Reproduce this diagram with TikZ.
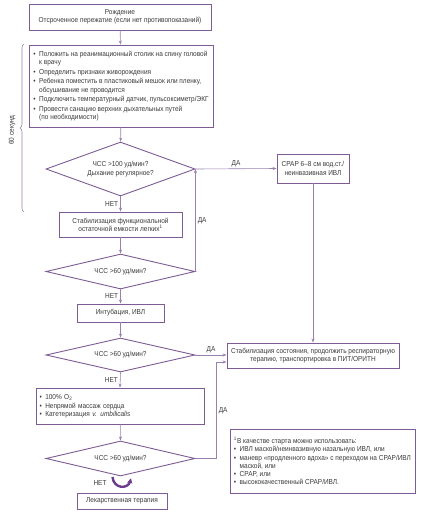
\documentclass[tikz,border=0pt]{standalone}
\usepackage{fontspec}
\setmainfont[FakeStretch=0.9]{Liberation Sans}
\usetikzlibrary{shapes.geometric,arrows.meta,decorations.pathreplacing,shadows,calc}
\definecolor{frame}{HTML}{7E5B94}
\definecolor{lin}{HTML}{9A80AE}
\definecolor{txt}{HTML}{3A3A3A}
\definecolor{loopc}{HTML}{6A3D8F}
\newcommand\fs{\fontsize{7.2}{8.2}\selectfont}
\newcommand\bitem{\makebox[0.8em][l]{\textbullet}}
\newcommand\bcont{\hspace*{0.8em}}
\begin{document}
\begin{tikzpicture}[x=1pt,y=-1pt,
  box/.style={draw=frame, line width=0.9pt, fill=white, font=\fs, text=txt, inner sep=0pt, align=center},
  dia/.style={draw=frame, line width=0.9pt, shape=diamond, inner sep=0pt, font=\fs, text=txt, align=center},
  conn/.style={draw=lin, line width=0.6pt, -{Stealth[length=4pt,width=3pt]}},
  lbl/.style={font=\fs, text=txt, inner sep=2pt}]
\useasboundingbox (0,0) rectangle (422,512);

\node[box, minimum width=182pt, minimum height=26pt] (b1) at (120,17)
  {Рождение\\Отсроченное пережатие (если нет противопоказаний)};

\node[box, minimum width=184pt, minimum height=82pt, align=left] (b2) at (121,86)
  {\bitem Положить на реанимационный столик на спину головой\\
   \bcont к врачу\\[1.3pt]
   \bitem Определить признаки живорождения\\[1.3pt]
   \bitem Ребенка поместить в пластиковый мешок или пленку,\\
   \bcont обсушивание не проводится\\[1.3pt]
   \bitem Подключить температурный датчик, пульсоксиметр/ЭКГ\\[1.3pt]
   \bitem Провести санацию верхних дыхательных путей\\
   \bcont (по необходимости)};

\node[dia, aspect=2.76, minimum width=149pt, minimum height=54pt] (d1) at (120.5,169)
  {ЧСС >100 уд/мин?\\[1pt]Дыхание регулярное?};

\node[box, minimum width=72pt, minimum height=29pt] (cpap) at (313,168.5)
  {CPAP 6–8 см вод.ст./\\[1pt]неинвазивная ИВЛ};

\node[box, minimum width=123pt, minimum height=25pt] (b3) at (120.5,224.5)
  {Стабилизация функциональной\\остаточной емкости легких\textsuperscript{1}};

\node[dia, aspect=4.26, minimum width=149pt, minimum height=35pt] (d2) at (120.5,271.5) {ЧСС >60 уд/мин?};

\node[box, minimum width=87pt, minimum height=18pt] (b4) at (120.5,313) {Интубация, ИВЛ};

\node[dia, aspect=4.38, minimum width=149pt, minimum height=34pt] (d3) at (120.5,355) {ЧСС >60 уд/мин?};

\node[box, minimum width=172pt, minimum height=25pt] (big) at (313,355.5)
  {Стабилизация состояния, продолжить респираторную\\терапию, транспортировка в ПИТ/ОРИТН};

\node[box, text width=161pt, inner xsep=3.5pt, minimum height=36pt, align=left] (b5) at (120,406)
  {\bitem 100\% O\textsubscript{2}\\[1pt]
   \bitem Непрямой массаж сердца\\[0pt]
   \bitem Катетеризация \textit{v. umbilicalis}};

\node[dia, aspect=4.26, minimum width=149pt, minimum height=35pt] (d4) at (120.5,458.5) {ЧСС >60 уд/мин?};

\node[box, minimum width=90pt, minimum height=16pt] (b6) at (122,501) {Лекарственная терапия};

\node[box, minimum width=185pt, minimum height=64pt, align=left,
  drop shadow={shadow xshift=1.2pt, shadow yshift=-1.2pt, fill=black!35, opacity=0.6}] (fn) at (322.5,461)
  {\textsuperscript{1}В качестве старта можно использовать:\\
   \bitem ИВЛ маской/неинвазивную назальную ИВЛ, или\\
   \bitem маневр «продленного вдоха» с переходом на CPAP/ИВЛ\\
   \bcont маской, или\\
   \bitem CPAP, или\\
   \bitem высококачественный CPAP/ИВЛ.};

% connectors
\draw[conn] (b1) -- (b2);
\draw[conn] (b2) -- (d1);
\draw[conn] (d1.east) -- node[lbl, above] {ДА} (cpap.west);
\draw[conn] (d1.south) -- node[lbl, left] {НЕТ} (b3.north);
\draw[conn] (b3) -- (d2.north);
\draw[conn] (d2.east) -- node[lbl, right] {ДА} (d1.east);
\draw[conn] (d2.south) -- node[lbl, left] {НЕТ} (b4.north);
\draw[conn] (b4) -- (d3.north);
\draw[conn] (d3.east) -- node[lbl, above] {ДА} (big.west |- d3.east);
\draw[conn] (cpap.south) -- (big.north);
\draw[conn] (d3.south) -- node[lbl, left] {НЕТ} (b5.north);
\draw[conn] (b5) -- (d4.north);
\coordinate (bend) at ($(d4.east)+(21,0)$);
\coordinate (inb) at ($(big.west)+(0,6.5)$);
\draw[conn] (d4.east) -- (bend) -- node[lbl, right, pos=0.5] {ДА} (bend |- inb) -- (inb);

% loop arrow
\coordinate (ls) at ($(d4.south)+(-8,0.5)$);
\coordinate (le) at ($(d4.south)+(10.5,2)$);
\draw[loopc, line width=2.4pt, -{Stealth[length=5pt,width=5.5pt]}]
  (ls) .. controls ($(ls)+(1,12)$) and ($(le)+(-3,11)$) .. (le);
\node[lbl] (net) at (100,483) {НЕТ};

% brace
\draw[lin, line width=0.6pt, decorate, decoration={brace, amplitude=4pt}] (24,212) -- (24,44);
\node[lbl, rotate=90] (sec) at (12,130) {60 секунд};
\end{tikzpicture}
\end{document}
